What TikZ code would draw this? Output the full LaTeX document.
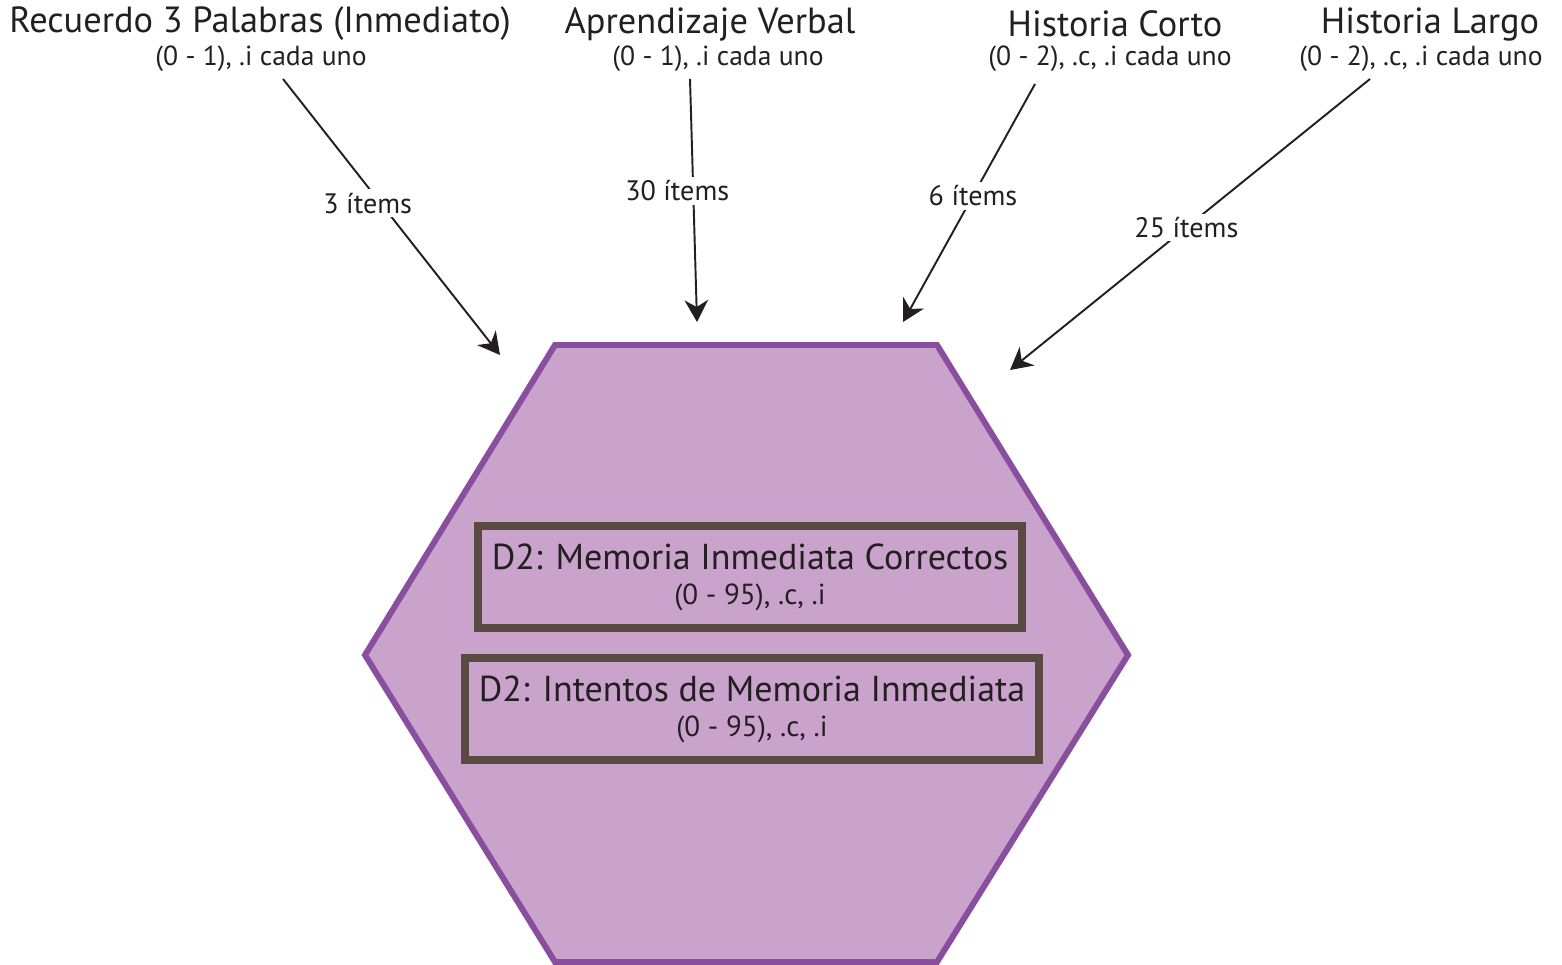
\documentclass[tikz,border=0pt]{standalone}
\usepackage{fontspec}
\setmainfont{PT Sans}
\usetikzlibrary{arrows.meta,positioning}
\definecolor{ink}{HTML}{231F20}
\definecolor{hexfill}{HTML}{C9A3CC}
\definecolor{hexline}{HTML}{8A4E9E}
\definecolor{boxline}{HTML}{594A42}
\tikzstyle{sourcetitle} = [font=\fontsize{20.7}{22}\selectfont, text=ink, inner sep=1pt]
\tikzstyle{rangetext} = [font=\fontsize{15.7}{17}\selectfont, text=ink, inner sep=1pt]
\tikzstyle{counttext} = [font=\fontsize{16}{18}\selectfont, text=ink, fill=white, inner sep=2pt]
\tikzstyle{hexagon} = [fill=hexfill, draw=hexline, line width=3.4pt, line join=miter]
\tikzstyle{score} = [rectangle, draw=boxline, line width=4.5pt, minimum height=2.04cm, align=center, text=ink, font=\fontsize{20.5}{20}\selectfont]
\tikzstyle{arrow} = [line width=1.1pt, draw=ink, -{Stealth[length=12.5pt,width=13.5pt,inset=4pt]}]

\begin{document}
\begin{tikzpicture}[x=0.02cm, y=-0.02cm]
\useasboundingbox (0,0) rectangle (1562,964);

% hexagon with the two scores
\draw [hexagon] (555,345) -- (937,345) -- (1128,655) -- (937,962) -- (555,962) -- (365,655) -- cycle;
\node (correctos) [score, minimum width=10.88cm] at (750,577) {D2: Memoria Inmediata Correctos\\{\fontsize{16.5}{20}\selectfont (0 - 95), .c, .i}};
\node (intentos) [score, minimum width=11.48cm] at (752,709) {D2: Intentos de Memoria Inmediata\\{\fontsize{16.5}{20}\selectfont (0 - 95), .c, .i}};

% sources
\node (recuerdo) [sourcetitle] at (260,24) {Recuerdo 3 Palabras (Inmediato)};
\node (recuerdosub) [rangetext] at (261,59) {(0 - 1), .i cada uno};
\node (aprendizaje) [sourcetitle] at (710,24) {Aprendizaje Verbal};
\node (aprendizajesub) [rangetext] at (718,59) {(0 - 1), .i cada uno};
\node (corto) [sourcetitle] at (1115,24) {Historia Corto};
\node (cortosub) [rangetext] at (1110,59) {(0 - 2), .c, .i cada uno};
\node (largo) [sourcetitle] at (1430,24) {Historia Largo};
\node (largosub) [rangetext] at (1421,59) {(0 - 2), .c, .i cada uno};

\coordinate (recuerdoin) at (500,355);
\coordinate (aprendizajein) at (697,322);
\coordinate (cortoin) at (903,322);
\coordinate (largoin) at (1010,370);

\draw [arrow] ([xshift=0.44cm, yshift=-0.1cm]recuerdosub.south) -- node[counttext, pos=0.45, xshift=-0.26cm] {3 ítems} (recuerdoin);
\draw [arrow] ([xshift=-0.56cm, yshift=-0.1cm]aprendizajesub.south) -- node[counttext, pos=0.46, xshift=-0.32cm] {30 ítems} (aprendizajein);
\draw [arrow] ([xshift=-1.5cm, yshift=-0.2cm]cortosub.south) -- node[counttext, pos=0.47] {6 ítems} (cortoin);
\draw [arrow] ([xshift=-1.02cm, yshift=-0.1cm]largosub.south) -- node[counttext, pos=0.51] {25 ítems} (largoin);
\end{tikzpicture}
\end{document}
